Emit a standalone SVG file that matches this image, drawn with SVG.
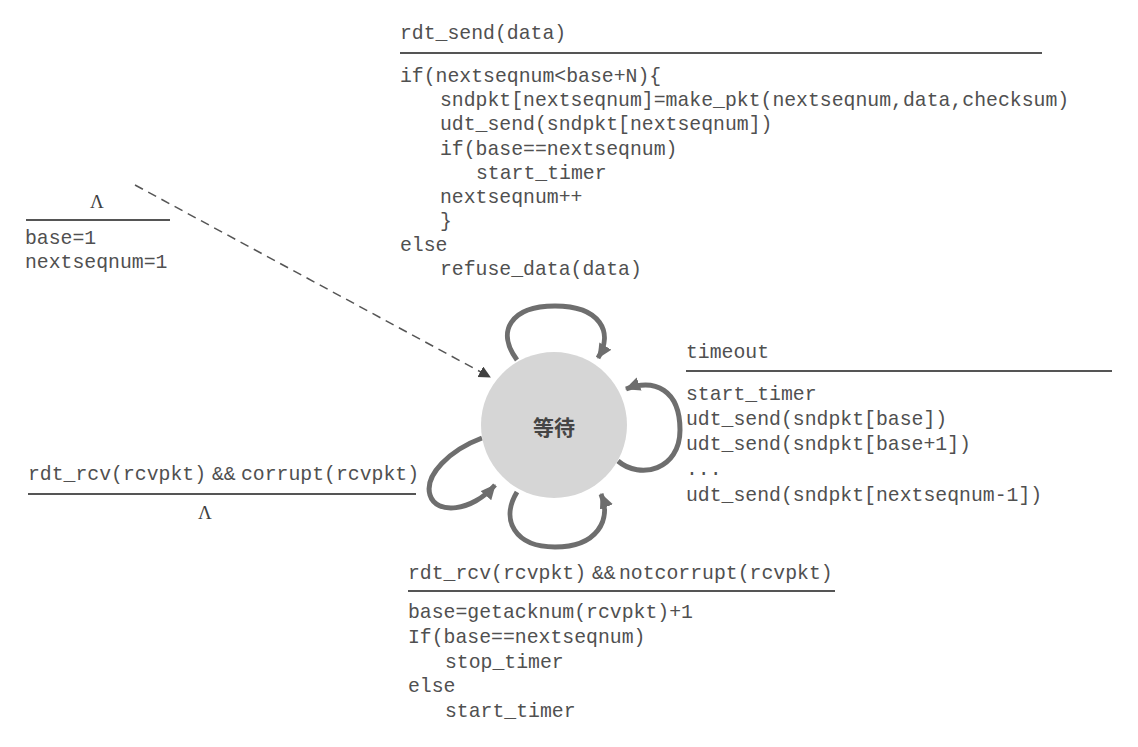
<svg xmlns="http://www.w3.org/2000/svg" width="1138" height="747" viewBox="0 0 1138 747">
<style>
.code{font-family:"Liberation Mono","DejaVu Sans Mono",monospace;font-size:19.8px;fill:#505050;}
.lam{font-family:"Liberation Serif",serif;font-size:19px;fill:#404040;}
.rule{stroke:#555;stroke-width:1.8;fill:none;}
.loop{stroke:#6e6e6e;stroke-width:5;fill:none;}
.dash{stroke:#555;stroke-width:1.5;fill:none;stroke-dasharray:9 6;}
</style>
<defs>
<marker id="loopHead" markerUnits="userSpaceOnUse" markerWidth="20" markerHeight="20" refX="14" refY="7" orient="auto">
<path d="M0,0 L15,7 L0,14 Z" fill="#6e6e6e"/>
</marker>
<marker id="dashHead" markerUnits="userSpaceOnUse" markerWidth="14" markerHeight="14" refX="11" refY="6" orient="auto">
<path d="M0,0 L12,6 L0,12 Z" fill="#404040"/>
</marker>
</defs>
<rect width="1138" height="747" fill="#ffffff"/>

<g id="connectors">
<path class="dash" d="M135,185 L490,377" marker-end="url(#dashHead)"/>
<path class="loop" d="M517,360 C496,332 510,306 555,306 C600,306 614,332 598,358" marker-end="url(#loopHead)"/>
<path class="loop" d="M618,461 C640,480 680,470 680,430 C680,390 655,378 626,389" marker-end="url(#loopHead)"/>
<path class="loop" d="M517,492 C500,520 515,547 555,547 C597,547 612,520 601,494" marker-end="url(#loopHead)"/>
<path class="loop" d="M482,438 C450,450 424,475 430,495 C436,515 472,512 495,485" marker-end="url(#loopHead)"/>
</g>

<g id="state-wait">
<circle cx="554" cy="425" r="73" fill="#d6d6d6"/>
<text x="554" y="435" text-anchor="middle" font-family="Noto Sans CJK SC, sans-serif" font-size="21" font-weight="bold" fill="#454545">等待</text>
</g>

<g id="label-init">
<text class="lam" x="97" y="208" text-anchor="middle">Λ</text>
<line class="rule" x1="26" y1="220" x2="170" y2="220"/>
<text class="code" x="25" y="244">base=1</text>
<text class="code" x="25" y="268">nextseqnum=1</text>
</g>

<g id="label-send">
<text class="code" x="400" y="39">rdt_send(data)</text>
<line class="rule" x1="400" y1="53" x2="1042" y2="53"/>
<text class="code" x="400" y="82">if(nextseqnum&lt;base+N){</text>
<text class="code" x="440" y="106">sndpkt[nextseqnum]=make_pkt(nextseqnum,data,checksum)</text>
<text class="code" x="440" y="130">udt_send(sndpkt[nextseqnum])</text>
<text class="code" x="440" y="155">if(base==nextseqnum)</text>
<text class="code" x="476" y="179">start_timer</text>
<text class="code" x="440" y="203">nextseqnum++</text>
<text class="code" x="440" y="227">}</text>
<text class="code" x="400" y="251">else</text>
<text class="code" x="440" y="275">refuse_data(data)</text>
</g>

<g id="label-timeout">
<text class="code" x="686" y="358">timeout</text>
<line class="rule" x1="686" y1="371" x2="1112" y2="371"/>
<text class="code" x="686" y="400">start_timer</text>
<text class="code" x="686" y="425">udt_send(sndpkt[base])</text>
<text class="code" x="686" y="450">udt_send(sndpkt[base+1])</text>
<text class="code" x="686" y="475">...</text>
<text class="code" x="686" y="501">udt_send(sndpkt[nextseqnum-1])</text>
</g>

<g id="label-corrupt">
<text class="code" y="480"><tspan x="28">rdt_rcv(rcvpkt)</tspan><tspan x="212">&amp;&amp;</tspan><tspan x="241">corrupt(rcvpkt)</tspan></text>
<line class="rule" x1="28" y1="494" x2="416" y2="494"/>
<text class="lam" x="205" y="519" text-anchor="middle">Λ</text>
</g>

<g id="label-ack">
<text class="code" y="579"><tspan x="408">rdt_rcv(rcvpkt)</tspan><tspan x="592">&amp;&amp;</tspan><tspan x="619">notcorrupt(rcvpkt)</tspan></text>
<line class="rule" x1="408" y1="591" x2="835" y2="591"/>
<text class="code" x="408" y="618">base=getacknum(rcvpkt)+1</text>
<text class="code" x="408" y="643">If(base==nextseqnum)</text>
<text class="code" x="445" y="668">stop_timer</text>
<text class="code" x="408" y="692">else</text>
<text class="code" x="445" y="717">start_timer</text>
</g>
</svg>
